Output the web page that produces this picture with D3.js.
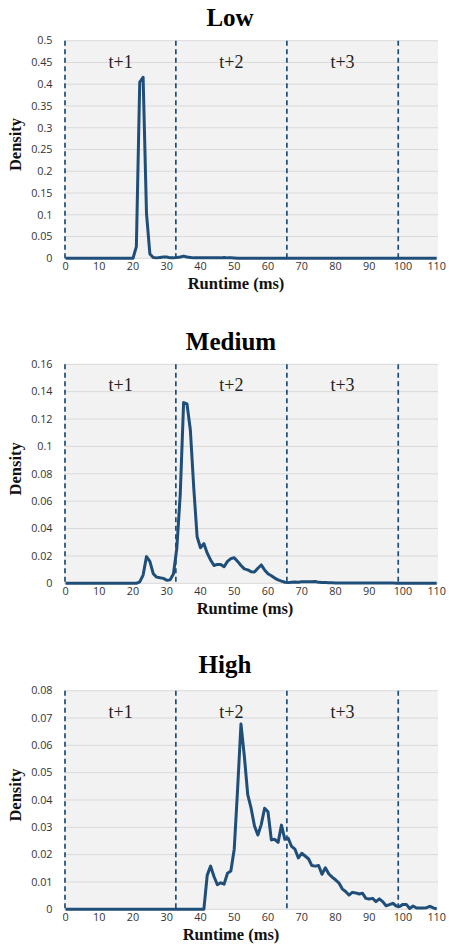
<!DOCTYPE html>
<html><head><meta charset="utf-8">
<script src="https://cdn.jsdelivr.net/npm/d3@7"></script>
<style>body{margin:0;background:#fff}svg{display:block}</style>
</head><body><div id="chart"></div>
<script>
// ---- data ----
const runtimeMs = d3.range(0, 111); // 0..110 ms
const xTickLabels = [0,10,20,30,40,50,60,70,80,90,100,110];
const frameBoundaries = [0, 32.7, 65.6, 98.6];
const frameLabels = ["t+1","t+2","t+3"];
const panelTitles = ["Low","Medium","High"];
const yTicksLow = [0,0.05,0.1,0.15,0.2,0.25,0.3,0.35,0.4,0.45,0.5];
const yTicksMedium = [0,0.02,0.04,0.06,0.08,0.1,0.12,0.14,0.16];
const yTicksHigh = [0,0.01,0.02,0.03,0.04,0.05,0.06,0.07,0.08];

const zeros = n => Array(n).fill(0);
const densityLow = [].concat(zeros(21), [
  0.027,0.405,0.416,0.103,0.010,0.002,0.001,0.002,0.003,0.003, // 21-30
  0.001,0.001,0.002,0.003,0.005,0.003,0.002,0.001,0.001,0.001, // 31-40
  0.001,0.001,0.001,0.001,0.001,0.001,0.002,0.001,0.001,0.0005 // 41-50
], zeros(60));
const densityMedium = [].concat(zeros(22), [
  0.001,0.006,0.0195,0.016,0.007,0.0045,0.004,0.0036,0.0022,     // 22-30
  0.0025,0.007,0.026,0.065,0.132,0.131,0.112,0.070,0.034,0.026,   // 31-40
  0.029,0.022,0.017,0.013,0.0138,0.0138,0.0121,0.016,0.018,0.0187,// 41-50
  0.016,0.013,0.0105,0.0098,0.0085,0.0083,0.011,0.0134,0.0098,0.007, // 51-60
  0.0055,0.0038,0.0025,0.0016,0.0008,0.0005,0.0008,0.0009,0.0008,0.0012, // 61-70
  0.0012,0.0012,0.0011,0.0013,0.0007,0.0005,0.0005,0.0004,0.0004,0.0003, // 71-80
  0.0003,0.0002,0.0002,0.0002,0.0002,0.0002,0.0002,0.0002,0.0002,0.0002, // 81-90
  0.0002,0.0002,0.0002,0.0002,0.0002,0.0002,0.0002,0.0001,0.0001,0.0001, // 91-100
  0.0001,0.0001,0.0001,0.0001,0.0001,0.0001,0.0001,0.0001,0.0001,0.0001  // 101-110
]);
const densityHigh = [].concat(zeros(42), [
  0.0125,0.0158,0.012,0.009,0.0097,0.0092,0.0132,0.014,            // 42-49
  0.022,0.044,0.0678,0.056,0.042,0.037,0.0305,0.0272,0.031,0.037,   // 50-59
  0.0357,0.0254,0.0256,0.0245,0.0308,0.0256,0.026,0.023,0.022,0.0188, // 60-69
  0.0205,0.0195,0.0185,0.016,0.0158,0.016,0.0128,0.0152,0.013,0.0118, // 70-79
  0.0108,0.0097,0.0075,0.0065,0.0052,0.0062,0.006,0.0056,0.0059,0.004, // 80-89
  0.0038,0.004,0.0028,0.0038,0.0028,0.0013,0.0017,0.0022,0.0012,0.001, // 90-99
  0.0018,0.0018,0.0003,0.0012,0.0005,0.0005,0.0005,0.0006,0.0011,0.0005, // 100-109
  0.0001 // 110
]);

// ---- layout ----
const W = 449, H = 945;
const panels = [
  {title: panelTitles[0], values: densityLow, ticks: yTicksLow, top: 40.7, bottom: 258.3, titleX: 230, titleY: 17, axX: 236},
  {title: panelTitles[1], values: densityMedium, ticks: yTicksMedium, top: 364.3, bottom: 583.3, titleX: 231, titleY: 341, axX: 245},
  {title: panelTitles[2], values: densityHigh, ticks: yTicksHigh, top: 690.7, bottom: 909.3, titleX: 225, titleY: 664, axX: 231}
];
const plotLeft = 64, plotRight = 438;
const lineColor = "#1f4e79";

const svg = d3.select("#chart").append("svg").attr("width", W).attr("height", H);
const x = d3.scaleLinear().domain([0, 110]).range([65.5, 436.7]);

panels.forEach(p => {
  const yMax = p.ticks[p.ticks.length - 1];
  const y = d3.scaleLinear().domain([0, yMax]).range([p.bottom, p.top]);
  const g = svg.append("g");

  g.append("rect").attr("x", plotLeft).attr("y", p.top)
    .attr("width", plotRight - plotLeft).attr("height", p.bottom - p.top)
    .attr("fill", "#f2f2f2");

  // gridlines
  g.selectAll("line.grid").data(p.ticks).join("line")
    .attr("x1", plotLeft).attr("x2", plotRight)
    .attr("y1", d => y(d)).attr("y2", d => y(d))
    .attr("stroke", "#d9d9d9").attr("stroke-width", 1);

  // y tick labels
  const fmt = d3.format("~g");
  g.selectAll("text.yt").data(p.ticks).join("text")
    .attr("x", 52.5).attr("y", d => y(d)).attr("dy", "0.35em")
    .attr("text-anchor", "end")
    .attr("font-family", "'Open Sans', 'Liberation Sans', sans-serif")
    .attr("font-size", 10.8).attr("fill", "#333")
    .text(d => fmt(d));

  // x tick labels
  g.selectAll("text.xt").data(xTickLabels).join("text")
    .attr("x", d => x(d)).attr("y", p.bottom + 7.7).attr("dy", "0.35em")
    .attr("text-anchor", "middle")
    .attr("font-family", "'Open Sans', 'Liberation Sans', sans-serif")
    .attr("font-size", 10.8).attr("fill", "#333")
    .text(d => d);

  // frame boundaries
  g.selectAll("line.frame").data(frameBoundaries).join("line")
    .attr("x1", d => d === 0 ? plotLeft + 1 : x(d)).attr("x2", d => d === 0 ? plotLeft + 1 : x(d))
    .attr("y1", p.top).attr("y2", p.bottom)
    .attr("stroke", lineColor).attr("stroke-width", 1.7)
    .attr("stroke-dasharray", "5,3.5");

  // frame labels
  g.selectAll("text.fl").data(frameLabels).join("text")
    .attr("x", (d, i) => (x(frameBoundaries[i]) + x(frameBoundaries[i + 1])) / 2)
    .attr("y", p.top + 20.5).attr("dy", "0.35em")
    .attr("text-anchor", "middle")
    .attr("font-family", "'Liberation Serif', 'Times New Roman', serif")
    .attr("font-size", 18).attr("fill", "#222")
    .text(d => d);

  // density line
  const line = d3.line().x((d, i) => x(runtimeMs[i])).y(d => y(d));
  g.append("path").datum(p.values)
    .attr("d", line).attr("fill", "none")
    .attr("stroke", lineColor).attr("stroke-width", 3)
    .attr("stroke-linejoin", "round");

  // title
  g.append("text").attr("x", p.titleX).attr("y", p.titleY).attr("dy", "0.35em")
    .attr("text-anchor", "middle")
    .attr("font-family", "'Liberation Serif', 'Times New Roman', serif")
    .attr("font-weight", "bold").attr("font-size", 25).attr("fill", "#000")
    .text(p.title);

  // x axis title
  g.append("text").attr("x", p.axX).attr("y", p.bottom + 24.5).attr("dy", "0.35em")
    .attr("text-anchor", "middle")
    .attr("font-family", "'Liberation Serif', 'Times New Roman', serif")
    .attr("font-weight", "bold").attr("font-size", 16.5).attr("fill", "#111")
    .text("Runtime (ms)");

  // y axis title
  g.append("text")
    .attr("transform", `translate(15,${(p.top + p.bottom) / 2 - 5}) rotate(-90)`)
    .attr("dy", "0.35em").attr("text-anchor", "middle")
    .attr("font-family", "'Liberation Serif', 'Times New Roman', serif")
    .attr("font-weight", "bold").attr("font-size", 16.5).attr("fill", "#111")
    .text("Density");
});
</script>
</body></html>
